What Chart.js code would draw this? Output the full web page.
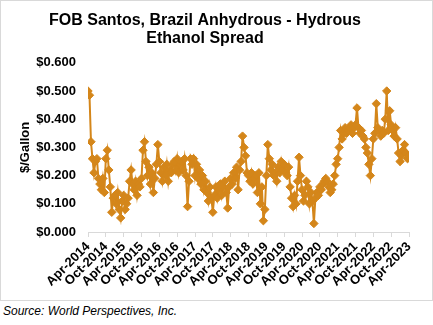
<!DOCTYPE html>
<html>
<head>
<meta charset="utf-8">
<script src="https://cdn.jsdelivr.net/npm/chart.js@4"></script>
<style>
  body { margin: 0; background: #fff; font-family: Arial, "Liberation Sans", sans-serif; }
  #box { position: absolute; left: 0; top: 0; width: 431px; height: 299px; border: 1px solid #d9d9d9; }
  #source { position: absolute; left: 3px; top: 304px; font-style: italic; font-size: 12px; color: #000; }
</style>
</head>
<body>
<div id="box"><canvas id="spreadChart" width="431" height="299"></canvas></div>
<div id="source">Source: World Perspectives, Inc.</div>
<script>
// half-monthly readings, Apr-2014 .. Apr-2023 ($/gallon)
const spread = [
  0.50, 0.485, 0.32, 0.26, 0.21, 0.25, 0.26, 0.19, 0.17, 0.15, 0.19, 0.14,   // 2014 Apr-Sep
  0.26, 0.29, 0.22, 0.16, 0.07, 0.12, 0.13, 0.10, 0.14, 0.08, 0.05, 0.11,    // Oct-14 .. Mar-15
  0.13, 0.08, 0.10, 0.12, 0.18, 0.22, 0.17, 0.15, 0.18, 0.13, 0.17, 0.16,    // Apr-15 .. Sep-15
  0.19, 0.29, 0.32, 0.25, 0.20, 0.23, 0.17, 0.21, 0.14, 0.19, 0.24, 0.31,    // Oct-15 .. Mar-16
  0.25, 0.21, 0.18, 0.23, 0.20, 0.24, 0.18, 0.22, 0.21, 0.24, 0.25, 0.22,    // Apr-16 .. Sep-16
  0.26, 0.21, 0.24, 0.25, 0.22, 0.26, 0.20, 0.09, 0.18, 0.26, 0.24, 0.26,    // Oct-16 .. Mar-17
  0.20, 0.24, 0.19, 0.22, 0.17, 0.20, 0.15, 0.18, 0.14, 0.11, 0.16, 0.12,    // Apr-17 .. Sep-17
  0.07, 0.13, 0.16, 0.12, 0.15, 0.17, 0.13, 0.16, 0.18, 0.14, 0.085, 0.16,   // Oct-17 .. Mar-18
  0.19, 0.17, 0.21, 0.19, 0.23, 0.15, 0.22, 0.25, 0.34, 0.30, 0.27, 0.21,    // Apr-18 .. Sep-18
  0.20, 0.18, 0.21, 0.17, 0.19, 0.20, 0.14, 0.21, 0.10, 0.16, 0.04, 0.08,    // Oct-18 .. Mar-19
  0.20, 0.31, 0.26, 0.22, 0.24, 0.20, 0.21, 0.18, 0.23, 0.21, 0.25, 0.22,    // Apr-19 .. Sep-19
  0.24, 0.21, 0.20, 0.23, 0.16, 0.12, 0.09, 0.13, 0.10, 0.18, 0.265, 0.20,   // Oct-19 .. Mar-20
  0.15, 0.11, 0.13, 0.18, 0.16, 0.10, 0.14, 0.11, 0.03, 0.12, 0.14, 0.13,    // Apr-20 .. Sep-20
  0.16, 0.15, 0.17, 0.18, 0.19, 0.18, 0.16, 0.14, 0.15, 0.17, 0.20, 0.24,    // Oct-20 .. Mar-21
  0.26, 0.30, 0.36, 0.33, 0.35, 0.37, 0.35, 0.36, 0.37, 0.38, 0.35, 0.37,    // Apr-21 .. Sep-21
  0.38, 0.44, 0.37, 0.35, 0.36, 0.34, 0.33, 0.30, 0.28, 0.24, 0.20, 0.26,    // Oct-21 .. Mar-22
  0.33, 0.35, 0.455, 0.37, 0.36, 0.34, 0.36, 0.35, 0.40, 0.50, 0.36, 0.43,   // Apr-22 .. Sep-22
  0.38, 0.36, 0.34, 0.37, 0.33, 0.28, 0.25, 0.27, 0.29, 0.31, 0.28, 0.26,    // Oct-22 .. Mar-23
  0.27                                                                       // Apr-23
];

const tickLabels = ['Apr-2014', 'Oct-2014', 'Apr-2015', 'Oct-2015', 'Apr-2016', 'Oct-2016',
  'Apr-2017', 'Oct-2017', 'Apr-2018', 'Oct-2018', 'Apr-2019', 'Oct-2019', 'Apr-2020',
  'Oct-2020', 'Apr-2021', 'Oct-2021', 'Apr-2022', 'Oct-2022', 'Apr-2023'];

const titleLines = ['FOB Santos, Brazil Anhydrous - Hydrous', 'Ethanol Spread'];

const orange = '#D4861A';
const boldFont = { family: 'Arial, "Liberation Sans", sans-serif', size: 13, weight: 'bold' };

const ctx = document.getElementById('spreadChart').getContext('2d');
new Chart(ctx, {
  type: 'line',
  data: {
    datasets: [{
      data: spread.map((v, i) => ({ x: i / 2, y: v })),
      borderColor: orange,
      backgroundColor: orange,
      borderWidth: 2,
      pointStyle: 'rectRot',
      pointRadius: 4.2,
      pointBorderWidth: 1,
      tension: 0
    }]
  },
  options: {
    responsive: false,
    animation: false,
    layout: { padding: { top: 0, right: 23, bottom: 0, left: 0 } },
    plugins: {
      legend: { display: false },
      tooltip: { enabled: false },
      title: {
        display: true,
        text: titleLines,
        color: '#000',
        font: { family: 'Arial, "Liberation Sans", sans-serif', size: 16, weight: 'bold', lineHeight: 1.15 },
        padding: { top: 10, bottom: 15 }
      }
    },
    scales: {
      x: {
        type: 'linear',
        min: 0,
        max: 108,
        afterFit: (scale) => { scale.height = 68; },
        ticks: {
          stepSize: 6,
          autoSkip: false,
          minRotation: 45,
          maxRotation: 45,
          color: '#000',
          font: boldFont,
          padding: 2,
          callback: (v) => tickLabels[Math.round(v / 6)]
        },
        grid: { drawOnChartArea: false, drawTicks: true, tickLength: 5, color: '#d9d9d9' },
        border: { display: true, color: '#d9d9d9' }
      },
      y: {
        min: 0,
        max: 0.6,
        afterFit: (scale) => { scale.width = 87; },
        ticks: {
          stepSize: 0.1,
          color: '#000',
          font: boldFont,
          padding: 12,
          callback: (v) => '$' + v.toFixed(3)
        },
        grid: { display: false, drawTicks: false },
        border: { display: false },
        title: {
          display: true,
          text: '$/Gallon',
          color: '#000',
          font: boldFont,
          padding: { top: 17 }
        }
      }
    }
  }
});
</script>
</body>
</html>
